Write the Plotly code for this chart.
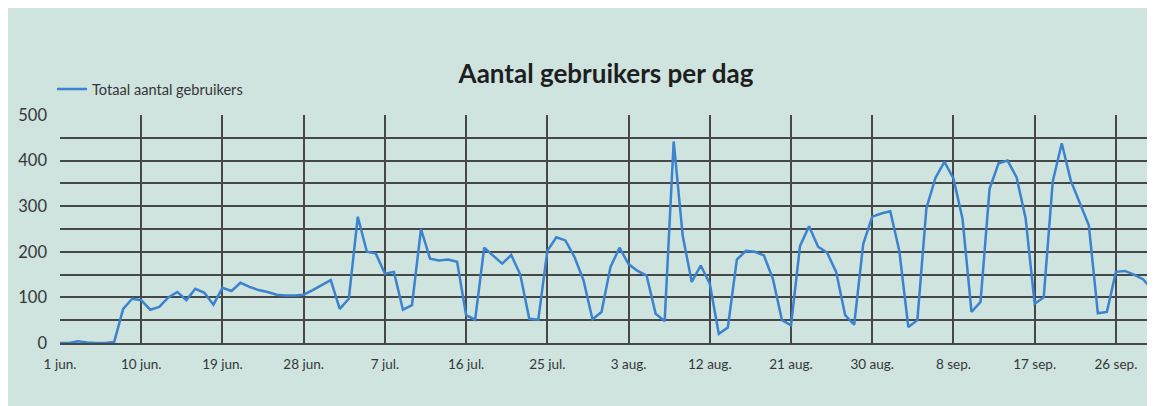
import pandas as pd
import plotly.graph_objects as go

# Daily values, 1 jun. .. 30 sep.
start_date = "2022-06-01"
users = [
    0, 0, 4, 1, 0, 0, 2, 75, 97, 94,
    73, 79, 100, 112, 94, 119, 110, 84, 121, 114,
    132, 123, 116, 112, 106, 104, 104, 106, 116, 127,
    138, 75, 97, 277, 200, 196, 152, 156, 73, 83,
    250, 185, 181, 183, 178, 61, 51, 209, 191, 174,
    193, 150, 53, 51, 202, 232, 225, 189, 138, 52,
    68, 167, 209, 173, 158, 148, 64, 48, 442, 235,
    134, 170, 130, 20, 34, 183, 202, 200, 192, 140,
    50, 39, 213, 256, 211, 198, 156, 61, 40, 217,
    277, 284, 289, 202, 35, 50, 295, 362, 397, 361,
    273, 68, 90, 338, 394, 400, 363, 273, 86, 100,
    354, 438, 356, 308, 258, 65, 68, 156, 158, 150,
    140, 118,
]
tick_dates = ["2022-06-01", "2022-06-10", "2022-06-19", "2022-06-28", "2022-07-07",
              "2022-07-16", "2022-07-25", "2022-08-03", "2022-08-12", "2022-08-21",
              "2022-08-30", "2022-09-08", "2022-09-17", "2022-09-26"]
tick_labels = ["1 jun.", "10 jun.", "19 jun.", "28 jun.", "7 jul.", "16 jul.", "25 jul.",
               "3 aug.", "12 aug.", "21 aug.", "30 aug.", "8 sep.", "17 sep.", "26 sep."]
series_name = "Totaal aantal gebruikers"
title_text = "Aantal gebruikers per dag"

dates = pd.date_range(start_date, periods=len(users), freq="D")

# the page body has an 8px margin; the figure fills the rest of the window
W, H = 1147, 398
L, R, T, B = 52, 3, 107, 63
pw, ph = W - L - R, H - T - B

BG = "#cfe3df"
GRID = "#464848"
TXT = "#363636"

fig = go.Figure()
fig.add_trace(go.Scatter(
    x=dates, y=users, mode="lines", name=series_name,
    line=dict(color="#3b82cf", width=2.5),
))

fig.update_layout(
    width=W, height=H,
    margin=dict(l=L, r=R, t=T, b=B),
    paper_bgcolor=BG,
    plot_bgcolor=BG,
    title=dict(text="<b>" + title_text + "</b>", x=(598 - L) / pw, xref="paper",
               xanchor="center", y=(H - 66) / H, yanchor="middle", yref="container",
               font=dict(family="Lato, Open Sans, sans-serif", size=26, color="#1e1e1e")),
    showlegend=True,
    legend=dict(x=(44 - L) / pw, xanchor="left", y=1 + (T - 81) / ph, yanchor="middle",
                bgcolor="rgba(0,0,0,0)",
                font=dict(family="Lato, Open Sans, sans-serif", size=14.6, color=TXT),
                itemwidth=30),
)

fig.update_xaxes(
    type="date",
    range=[dates[0], dates[-1]],
    tickvals=pd.to_datetime(tick_dates), ticktext=tick_labels,
    showgrid=True, gridcolor=GRID, gridwidth=1.5,
    showline=True, linecolor=GRID, linewidth=1.5,
    ticks="", ticklabelstandoff=8,
    tickfont=dict(family="Liberation Sans Narrow, Lato, sans-serif", size=13.5, color=TXT),
    zeroline=False,
)
fig.update_yaxes(
    range=[0, 500], tickvals=[0, 100, 200, 300, 400, 500],
    showgrid=True, gridcolor=GRID, gridwidth=1.5,
    minor=dict(dtick=50, tick0=0, showgrid=True, gridcolor=GRID, gridwidth=1.5),
    showline=False, ticks="", ticklabelstandoff=12,
    tickfont=dict(family="Lato, Open Sans, sans-serif", size=16.5, color=TXT),
    zeroline=False,
)

fig.write_html("out.html")
